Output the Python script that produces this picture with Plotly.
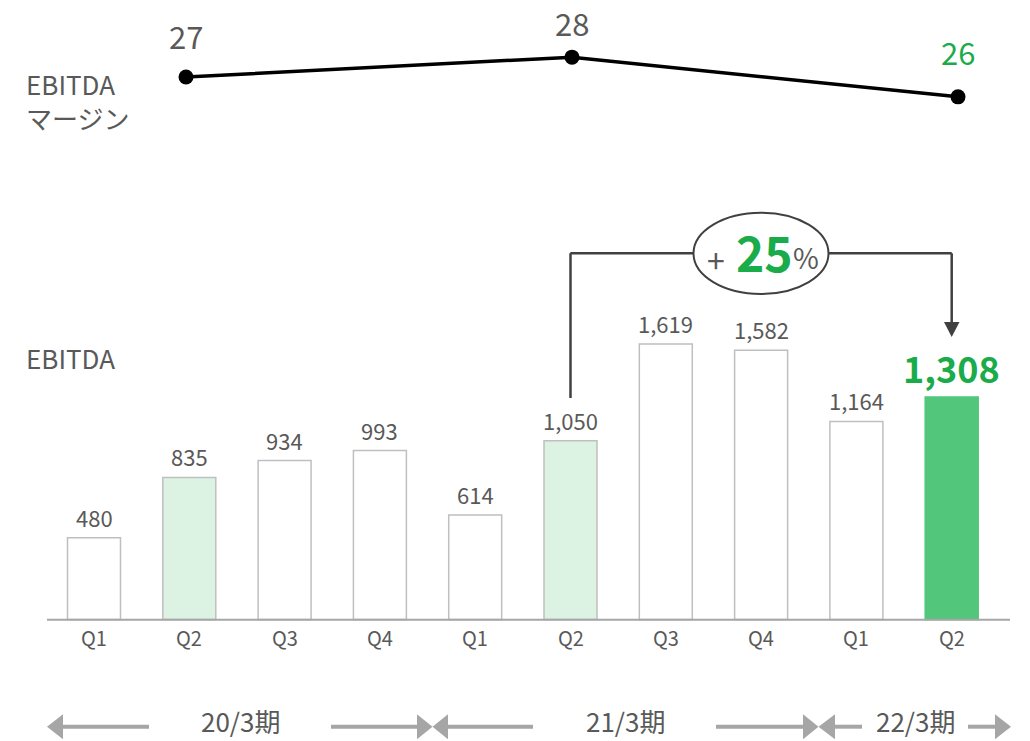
import plotly.graph_objects as go

# ---- data ----
quarters = ["Q1", "Q2", "Q3", "Q4", "Q1", "Q2", "Q3", "Q4", "Q1", "Q2"]
bar_keys = ["20/3 Q1", "20/3 Q2", "20/3 Q3", "20/3 Q4",
            "21/3 Q1", "21/3 Q2", "21/3 Q3", "21/3 Q4",
            "22/3 Q1", "22/3 Q2"]
ebitda = [480, 835, 934, 993, 614, 1050, 1619, 1582, 1164, 1308]
margin_keys = ["20/3 Q2", "21/3 Q2", "22/3 Q2"]
margin = [27, 28, 26]
fiscal_years = ["20/3期", "21/3期", "22/3期"]
growth_pct = 25

W, H = 1030, 741
FONT = "Noto Sans CJK JP"
GRAY_TXT = "#595959"
GREEN_TXT = "#1aab4a"
GREEN_BAR = "#52c67a"
LIGHT_GREEN = "#dcf2e3"
BORDER = "#bfbfbf"
ARROW_GRAY = "#a6a6a6"
DARK = "#404040"


def px(x):
    return x / W


def py(y):
    return 1 - y / H


fills = []
lines = []
for i, v in enumerate(ebitda):
    if i == len(ebitda) - 1:
        fills.append(GREEN_BAR)
        lines.append(GREEN_BAR)
    elif i in (1, 5):
        fills.append(LIGHT_GREEN)
        lines.append(BORDER)
    else:
        fills.append("#ffffff")
        lines.append(BORDER)

fig = go.Figure()
fig.add_trace(go.Bar(
    x=bar_keys, y=ebitda,
    marker=dict(color=fills, line=dict(color=lines, width=1.5)),
    hoverinfo="skip", showlegend=False,
))
fig.add_trace(go.Scatter(
    x=margin_keys, y=margin, xaxis="x2", yaxis="y2",
    mode="lines+markers",
    line=dict(color="#000000", width=3.5),
    marker=dict(color="#000000", size=15),
    hoverinfo="skip", showlegend=False,
))

annotations = []
# bar value labels
for i, v in enumerate(ebitda):
    last = i == len(ebitda) - 1
    annotations.append(dict(
        x=bar_keys[i], y=v, xref="x", yref="y",
        text=f"<b>{v:,}</b>" if last else f"{v:,}",
        showarrow=False, xanchor="center", yanchor="middle",
        yshift=30 if last else 21,
        font=dict(family=FONT, size=36 if last else 22,
                  color=GREEN_TXT if last else GRAY_TXT),
    ))
# quarter labels below the baseline
for i, q in enumerate(quarters):
    annotations.append(dict(
        x=bar_keys[i], y=py(637), xref="x", yref="paper",
        text=q, showarrow=False, xanchor="center", yanchor="middle",
        font=dict(family=FONT, size=20, color=GRAY_TXT),
    ))
# margin labels
m_shift = [42, 35, 45]
for i, v in enumerate(margin):
    last = i == len(margin) - 1
    annotations.append(dict(
        x=margin_keys[i], y=v, xref="x2", yref="y2",
        text=str(v), showarrow=False, xanchor="center", yanchor="middle",
        yshift=m_shift[i],
        font=dict(family=FONT, size=31,
                  color=GREEN_TXT if last else GRAY_TXT),
    ))
# row titles
annotations += [
    dict(x=px(24), y=py(83), xref="paper", yref="paper",
         text="EBITDA", showarrow=False, xanchor="left", yanchor="middle",
         font=dict(family=FONT, size=26, color=GRAY_TXT)),
    dict(x=px(24), y=py(118), xref="paper", yref="paper",
         text="マージン", showarrow=False, xanchor="left", yanchor="middle",
         font=dict(family=FONT, size=26, color=GRAY_TXT)),
    dict(x=px(24), y=py(357), xref="paper", yref="paper",
         text="EBITDA", showarrow=False, xanchor="left", yanchor="middle",
         font=dict(family=FONT, size=26, color=GRAY_TXT)),
]
# growth badge text
annotations += [
    dict(x=px(716), y=py(259), xref="paper", yref="paper", text="+",
         showarrow=False, xanchor="center", yanchor="middle",
         font=dict(family=FONT, size=32, color=GRAY_TXT)),
    dict(x=px(764), y=py(251), xref="paper", yref="paper",
         text=f"<b>{growth_pct}</b>", showarrow=False,
         xanchor="center", yanchor="middle",
         font=dict(family=FONT, size=48, color=GREEN_TXT)),
    dict(x=px(806), y=py(257), xref="paper", yref="paper", text="%",
         showarrow=False, xanchor="center", yanchor="middle",
         font=dict(family=FONT, size=28, color=GRAY_TXT)),
]
# fiscal year labels
for name, cx in zip(fiscal_years, [240, 625, 915]):
    annotations.append(dict(
        x=px(cx), y=py(720), xref="paper", yref="paper", text=name,
        showarrow=False, xanchor="center", yanchor="middle", borderpad=0,
        font=dict(family=FONT, size=26, color=GRAY_TXT),
    ))

shapes = []
# baseline
shapes.append(dict(type="line", xref="paper", yref="paper",
                   x0=px(47), x1=px(1010), y0=py(619.8), y1=py(619.8),
                   line=dict(color=ARROW_GRAY, width=2), layer="above"))
# growth bracket
bl = dict(color=DARK, width=2.5)
shapes += [
    dict(type="line", xref="x", yref="paper", x0=5, x1=5,
         y0=py(398), y1=py(253.3), line=bl),
    dict(type="line", xref="paper", yref="paper", x0=px(570.3), x1=px(694),
         y0=py(253.3), y1=py(253.3), line=bl),
    dict(type="line", xref="paper", yref="paper", x0=px(828), x1=px(951.7),
         y0=py(253.3), y1=py(253.3), line=bl),
    dict(type="line", xref="x", yref="paper", x0=9, x1=9,
         y0=py(253.3), y1=py(324), line=bl),
    dict(type="path", xref="paper", yref="paper",
         path=f"M {px(944)} {py(322)} L {px(959.5)} {py(322)} L {px(951.7)} {py(337)} Z",
         fillcolor=DARK, line=dict(width=0)),
    dict(type="circle", xref="paper", yref="paper",
         x0=px(693.5), x1=px(828.5), y0=py(294), y1=py(212.7),
         line=dict(color=DARK, width=2), fillcolor="#ffffff"),
]

# fiscal year arrows
AY = 726.7


def hline(x0, x1):
    return dict(type="line", xref="paper", yref="paper",
                x0=px(x0), x1=px(x1), y0=py(AY), y1=py(AY),
                line=dict(color=ARROW_GRAY, width=4))


def head(tip, back):
    return dict(type="path", xref="paper", yref="paper",
                path=(f"M {px(tip)} {py(AY)} L {px(back)} {py(AY - 12.5)} "
                      f"L {px(back)} {py(AY + 12.5)} Z"),
                fillcolor=ARROW_GRAY, line=dict(width=0))


shapes += [
    head(47, 63), hline(62, 149),
    hline(331, 418), head(432.5, 417),
    head(432.5, 448), hline(447, 533),
    hline(716, 804), head(818.5, 803),
    head(818.5, 835), hline(834, 862),
    hline(968, 996), head(1011, 995),
]

fig.update_layout(
    width=W, height=H,
    margin=dict(l=0, r=0, t=0, b=0),
    paper_bgcolor="#ffffff", plot_bgcolor="#ffffff",
    bargap=0.444,
    xaxis=dict(type="category", range=[-94 / 95.3, (W - 94) / 95.3],
               visible=False, fixedrange=True),
    yaxis=dict(range=[-714.0, 3640.5], visible=False, fixedrange=True),
    xaxis2=dict(type="category", overlaying="x", range=[-186 / 386, (W - 186) / 386],
                visible=False, fixedrange=True),
    yaxis2=dict(overlaying="y", range=[27 - (H - 77.0) / 19.85, 27 + 77.0 / 19.85],
                visible=False, fixedrange=True),
    annotations=annotations,
    shapes=shapes,
    font=dict(family=FONT, color=GRAY_TXT),
)

fig.write_html("out.html", config={"displayModeBar": False})
